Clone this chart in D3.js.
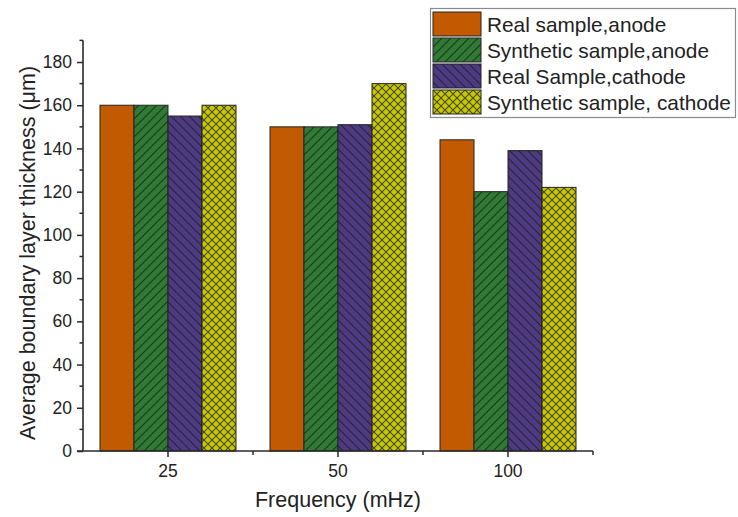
<!DOCTYPE html>
<html>
<head>
<meta charset="utf-8">
<script src="https://cdn.jsdelivr.net/npm/d3@7"></script>
<style>
  html, body { margin: 0; padding: 0; background: #fff; }
  svg { display: block; font-family: "Liberation Sans", Arial, sans-serif; }
</style>
</head>
<body>
<svg id="chart" width="738" height="517"></svg>
<script>
// Frequencies on the x axis
const categories = ["25", "50", "100"];
// Series names, in legend order
const seriesNames = [
  "Real sample,anode",
  "Synthetic sample,anode",
  "Real Sample,cathode",
  "Synthetic sample, cathode"
];
// Average boundary layer thickness (µm) per frequency
const realAnode = [160, 150, 144];
const syntheticAnode = [160, 150, 120];
const realCathode = [155, 151, 139];
const syntheticCathode = [160, 170, 122];
// Y axis ticks
const yMajorTicks = [0, 20, 40, 60, 80, 100, 120, 140, 160, 180];
const yMinorTicks = [10, 30, 50, 70, 90, 110, 130, 150, 170, 190];

const seriesValues = [realAnode, syntheticAnode, realCathode, syntheticCathode];
const fills = ["#c25a02", "#2f7b34", "#4d3a82", "#c9c900"];
const hatches = ["none", "fwd", "back", "cross"];

const svg = d3.select("#chart");
const margin = { left: 83 };
const axisColor = "#2a2a2a";
const textColor = "#222";

// hatch patterns
const defs = svg.append("defs");
hatches.forEach((h, i) => {
  if (h === "none") return;
  const s = h === "cross" ? 8 : 9;
  const p = defs.append("pattern")
    .attr("id", "hatch" + i)
    .attr("patternUnits", "userSpaceOnUse")
    .attr("width", s).attr("height", s);
  p.append("rect").attr("width", s).attr("height", s).attr("fill", fills[i]);
  const fwd = `M0,${s} L${s},0 M${-s/2},${s/2} L${s/2},${-s/2} M${s/2},${s*1.5} L${s*1.5},${s/2}`;
  const back = `M0,0 L${s},${s} M${-s/2},${s/2} L${s/2},${s*1.5} M${s/2},${-s/2} L${s*1.5},${s/2}`;
  const d = h === "fwd" ? fwd : h === "back" ? back : fwd + " " + back;
  p.append("path").attr("d", d)
    .attr("stroke", "#1b1b1b").attr("stroke-width", 1.1)
    .attr("stroke-opacity", 0.75).attr("fill", "none");
});
const fillFor = i => hatches[i] === "none" ? fills[i] : `url(#hatch${i})`;

// scales
const x0 = d3.scaleBand()
  .domain(categories)
  .range([margin.left, 593])
  .paddingInner(0.2)
  .paddingOuter(0.1);
const x1 = d3.scaleBand()
  .domain(d3.range(seriesNames.length))
  .range([0, x0.bandwidth()]);
const y = d3.scaleLinear().domain([0, 190]).range([451, 40.4]);

// bars
const groups = svg.append("g").selectAll("g")
  .data(categories)
  .join("g")
  .attr("transform", d => `translate(${x0(d)},0)`);
groups.selectAll("rect")
  .data((d, ci) => seriesValues.map((vals, si) => ({ si, v: vals[ci] })))
  .join("rect")
  .attr("x", d => x1(d.si))
  .attr("width", x1.bandwidth())
  .attr("y", d => y(d.v))
  .attr("height", d => y(0) - y(d.v))
  .attr("fill", d => fillFor(d.si))
  .attr("stroke", "#222")
  .attr("stroke-width", 1);

// y axis with minor ticks
const yAxis = svg.append("g").attr("transform", `translate(${margin.left},0)`);
yAxis.call(d3.axisLeft(y).tickValues(yMajorTicks).tickSize(6).tickPadding(5).tickFormat(d3.format("d")));
yMinorTicks.forEach(t => {
  yAxis.append("line").attr("x1", 0).attr("x2", -3.5)
    .attr("y1", y(t)).attr("y2", y(t))
    .attr("stroke", axisColor).attr("stroke-width", 1.5);
});
yAxis.select(".domain").attr("d", `M0,${y(190)}V${y(0)}`);

// x axis with boundary ticks between groups
const xAxis = svg.append("g").attr("transform", `translate(0,${y(0)})`);
xAxis.call(d3.axisBottom(x0).tickSize(6).tickPadding(8).tickSizeOuter(0));
xAxis.select(".domain").attr("d", `M${margin.left - 6},0H${x0.range()[1]}`);
const xBounds = [x0.range()[0] + x0.step(), x0.range()[0] + 2 * x0.step(), x0.range()[1]];
xBounds.forEach(b => {
  xAxis.append("line").attr("x1", b).attr("x2", b).attr("y1", 0).attr("y2", 4)
    .attr("stroke", axisColor).attr("stroke-width", 1.5);
});

[yAxis, xAxis].forEach(a => {
  a.select(".domain").attr("stroke", axisColor).attr("stroke-width", 1.6);
  a.selectAll(".tick line").attr("stroke", axisColor).attr("stroke-width", 1.5);
  a.selectAll(".tick text")
    .attr("font-size", 17.5).attr("fill", textColor)
    .attr("font-family", "'Liberation Sans', Arial, sans-serif");
});

// axis titles
svg.append("text")
  .attr("x", x0.range()[0] + (x0.range()[1] - x0.range()[0]) / 2)
  .attr("y", 507)
  .attr("text-anchor", "middle")
  .attr("font-size", 21.5)
  .attr("fill", textColor)
  .text("Frequency (mHz)");
svg.append("text")
  .attr("transform", "translate(35,253) rotate(-90)")
  .attr("text-anchor", "middle")
  .attr("font-size", 21.5)
  .attr("fill", textColor)
  .text("Average boundary layer thickness (\u03bcm)");

// legend
const legend = svg.append("g");
legend.append("rect")
  .attr("x", 430.5).attr("y", 8.5).attr("width", 305).attr("height", 109)
  .attr("fill", "#fff").attr("stroke", "#8a8a8a").attr("stroke-width", 1.2);
const items = legend.selectAll("g.item")
  .data(seriesNames)
  .join("g").attr("class", "item")
  .attr("transform", (d, i) => `translate(433,${12 + i * 26})`);
items.append("rect")
  .attr("width", 48).attr("height", 24)
  .attr("fill", (d, i) => fillFor(i))
  .attr("stroke", "#222").attr("stroke-width", 1);
items.append("text")
  .attr("x", 54).attr("y", 19.5)
  .attr("font-size", 20.8)
  .attr("fill", textColor)
  .text(d => d);
</script>
</body>
</html>
